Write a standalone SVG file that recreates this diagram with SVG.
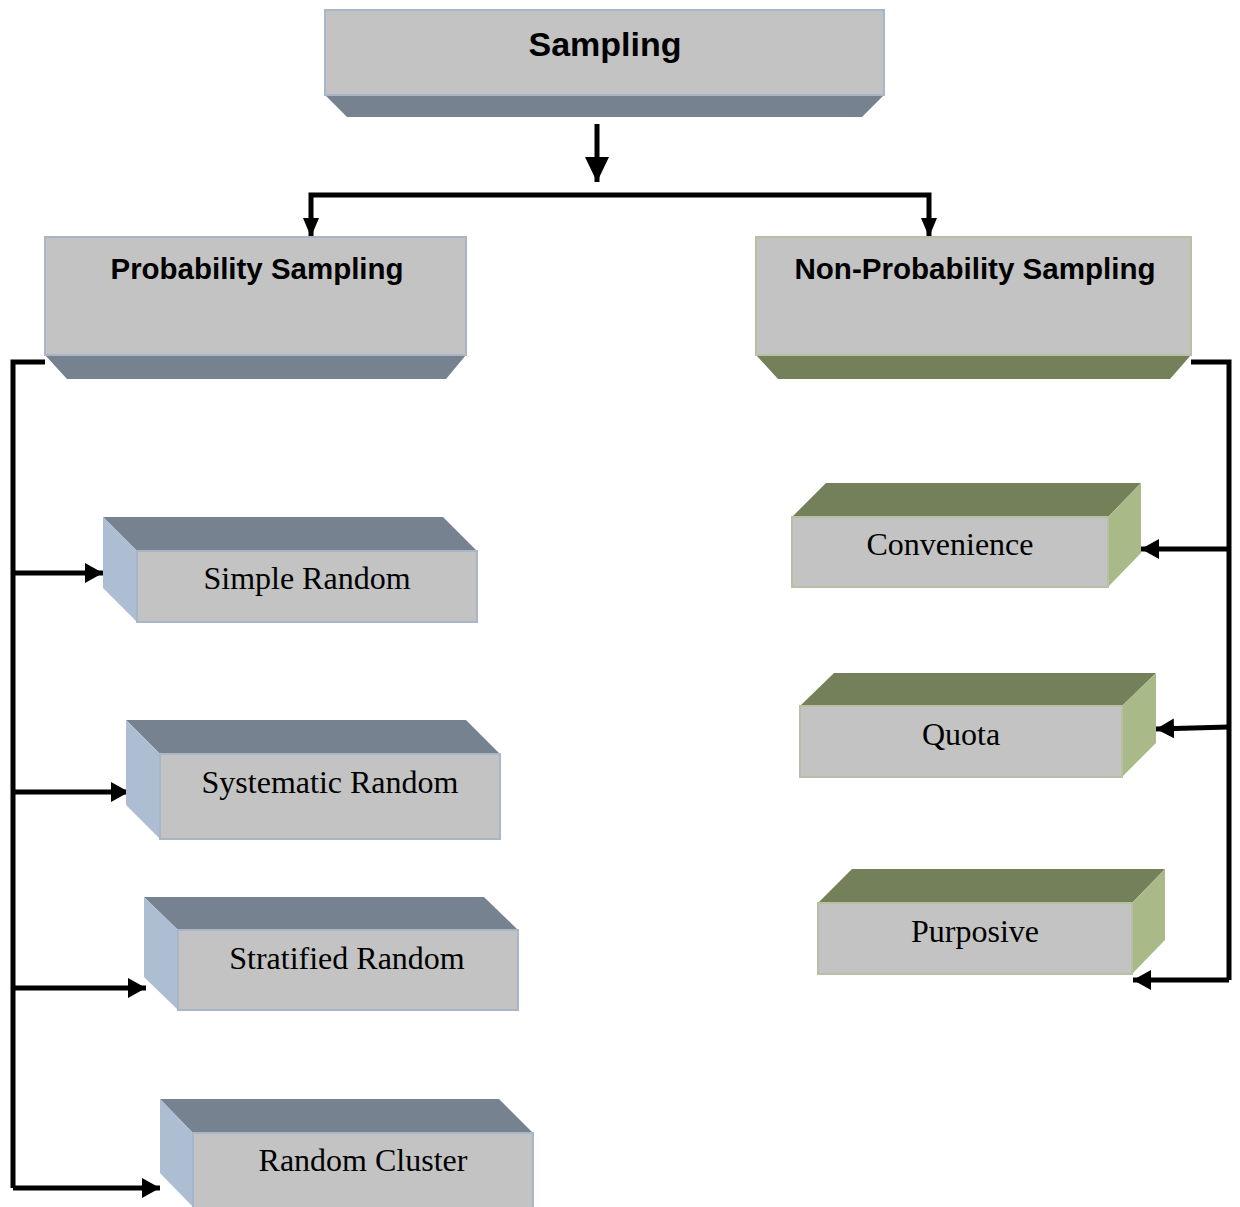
<svg xmlns="http://www.w3.org/2000/svg" width="1240" height="1207" viewBox="0 0 1240 1207">
<style>
.front{fill:#C3C3C3;stroke:#A9B6C8;stroke-width:2}
.frontg{fill:#C3C3C3;stroke:#B7C0A2;stroke-width:2}
.slate{fill:#768290}
.blue{fill:#ADBED3}
.olive{fill:#748059}
.lolive{fill:#A9BA88}
.hd{font-family:"Liberation Sans",Arial,sans-serif;font-weight:bold;fill:#000;text-anchor:middle}
.lb{font-family:"Liberation Serif","Times New Roman",serif;font-size:32px;fill:#000;text-anchor:middle}
.cn{fill:none;stroke:#000;stroke-width:5}
</style>
<defs>
<marker id="ah" markerUnits="userSpaceOnUse" markerWidth="22" markerHeight="22" refX="18" refY="10" orient="auto"><path d="M0,0 L18,10 L0,20 Z" fill="#000"/></marker>
<marker id="ahb" markerUnits="userSpaceOnUse" markerWidth="28" markerHeight="26" refX="25" refY="12" orient="auto"><path d="M0,0 L25,12 L0,24 Z" fill="#000"/></marker>
<marker id="ahs" markerUnits="userSpaceOnUse" markerWidth="22" markerHeight="18" refX="19" refY="8" orient="auto"><path d="M0,0 L19,8 L0,16 Z" fill="#000"/></marker>
</defs>
<g id="connectors">
<line class="cn" x1="597" y1="124" x2="597" y2="182" stroke-width="8" marker-end="url(#ahb)"/>
<path class="cn" d="M597,195 H311 V237" marker-end="url(#ahs)"/>
<path class="cn" d="M597,195 H929 V237" marker-end="url(#ahs)"/>
<path class="cn" d="M45,362 H13 V1188"/>
<line class="cn" x1="13" y1="573" x2="103" y2="573" marker-end="url(#ah)"/>
<line class="cn" x1="13" y1="792" x2="129" y2="792" marker-end="url(#ah)"/>
<line class="cn" x1="13" y1="988" x2="146" y2="988" marker-end="url(#ah)"/>
<line class="cn" x1="13" y1="1188" x2="160" y2="1188" marker-end="url(#ah)"/>
<path class="cn" d="M1191,362 H1229 V980"/>
<line class="cn" x1="1229" y1="549" x2="1141" y2="549" marker-end="url(#ah)"/>
<line class="cn" x1="1229" y1="727" x2="1156" y2="729" marker-end="url(#ah)"/>
<line class="cn" x1="1229" y1="980" x2="1133" y2="980" marker-end="url(#ah)"/>
</g>
<g id="sampling">
<polygon class="slate" points="325,95 884,95 862,117 347,117"/>
<rect class="front" x="325" y="10" width="559" height="85"/>
<text class="hd" x="605" y="56" font-size="34">Sampling</text>
</g>
<g id="probability">
<polygon class="slate" points="45,355 466,355 446,379 67,379"/>
<rect class="front" x="45" y="237" width="421" height="118"/>
<text class="hd" x="257" y="279" font-size="29" textLength="293" lengthAdjust="spacingAndGlyphs">Probability Sampling</text>
</g>
<g id="nonprobability">
<polygon class="olive" points="756,355 1191,355 1170,379 778,379"/>
<rect class="frontg" x="756" y="237" width="435" height="118"/>
<text class="hd" x="975" y="279" font-size="29" textLength="361" lengthAdjust="spacingAndGlyphs">Non-Probability Sampling</text>
</g>
<g id="simple-random">
<polygon class="slate" points="103,517 443,517 477,551 137,551"/>
<polygon class="blue" points="103,517 137,551 137,622 103,588"/>
<rect class="front" x="137" y="551" width="340" height="71"/>
<text class="lb" x="307" y="589">Simple Random</text>
</g>
<g id="systematic-random">
<polygon class="slate" points="126,720 466,720 500,754 160,754"/>
<polygon class="blue" points="126,720 160,754 160,839 126,805"/>
<rect class="front" x="160" y="754" width="340" height="85"/>
<text class="lb" x="330" y="793">Systematic Random</text>
</g>
<g id="stratified-random">
<polygon class="slate" points="144,897 484,897 518,930 178,930"/>
<polygon class="blue" points="144,897 178,930 178,1010 144,977"/>
<rect class="front" x="178" y="930" width="340" height="80"/>
<text class="lb" x="347" y="969">Stratified Random</text>
</g>
<g id="random-cluster">
<polygon class="slate" points="160,1099 499,1099 533,1133 193,1133"/>
<polygon class="blue" points="160,1099 193,1133 193,1207 160,1173"/>
<rect class="front" x="193" y="1133" width="340" height="80"/>
<text class="lb" x="363" y="1171">Random Cluster</text>
</g>
<g id="convenience">
<polygon class="olive" points="792,517 826,483 1141,483 1108,517"/>
<polygon class="lolive" points="1108,517 1141,483 1141,553 1108,587"/>
<rect class="frontg" x="792" y="517" width="316" height="70"/>
<text class="lb" x="950" y="555">Convenience</text>
</g>
<g id="quota">
<polygon class="olive" points="800,706 834,673 1156,673 1122,706"/>
<polygon class="lolive" points="1122,706 1156,673 1156,743 1122,777"/>
<rect class="frontg" x="800" y="706" width="322" height="71"/>
<text class="lb" x="961" y="745">Quota</text>
</g>
<g id="purposive">
<polygon class="olive" points="818,903 852,869 1165,869 1132,903"/>
<polygon class="lolive" points="1132,903 1165,869 1165,940 1132,974"/>
<rect class="frontg" x="818" y="903" width="314" height="71"/>
<text class="lb" x="975" y="942">Purposive</text>
</g>
</svg>
